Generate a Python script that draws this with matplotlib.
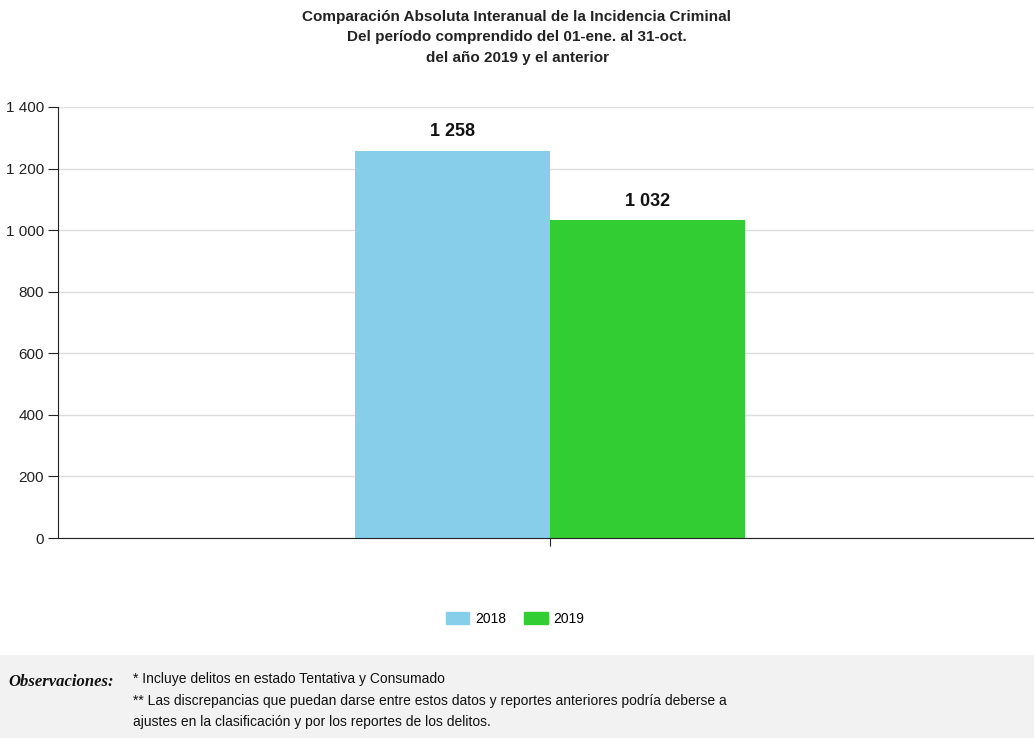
import matplotlib.pyplot as plt
from matplotlib.patches import Rectangle, Patch
from matplotlib.ticker import FuncFormatter

# data
years = ['2018', '2019']
values = [1258, 1032]
colors = ['#87CEEB', '#32CD32']
title_lines = ['Comparación Absoluta Interanual de la Incidencia Criminal',
               'Del período comprendido del 01-ene. al 31-oct.',
               'del año 2019 y el anterior']
notes = ['* Incluye delitos en estado Tentativa y Consumado',
         '** Las discrepancias que puedan darse entre estos datos y reportes anteriores podría deberse a',
         'ajustes en la clasificación y por los reportes de los delitos.']

plt.rcParams['font.family'] = ['Liberation Sans Narrow', 'Liberation Sans', 'DejaVu Sans']

fig = plt.figure(figsize=(10.34, 7.38), dpi=100)
ax = fig.add_axes([58 / 1034, 1 - 538 / 738, 1 - 58 / 1034, 431 / 738])

width = 1.0
offsets = [-0.5, 0.5]
for yr, v, c, off in zip(years, values, colors, offsets):
    ax.bar(off, v, width=width, color=c, label=yr, zorder=2)
    ax.text(off, v + 35, f'{v:,}'.replace(',', ' '), ha='center', va='bottom',
            fontsize=13, fontweight='bold', color='#111111')

ax.set_ylim(0, 1400)
ax.set_xlim(-2.52, 2.48)
ax.set_yticks(range(0, 1401, 200))
ax.yaxis.set_major_formatter(FuncFormatter(lambda v, p: f'{int(v):,}'.replace(',', ' ')))
ax.set_xticks([0])
ax.set_xticklabels([''])
ax.grid(axis='y', color='#dddddd', linewidth=1, zorder=0)
ax.set_axisbelow(True)
for s in ['top', 'right']:
    ax.spines[s].set_visible(False)
ax.spines['left'].set_color('#222222')
ax.spines['bottom'].set_color('#222222')
ax.tick_params(axis='y', length=7, labelsize=11, colors='#222222', pad=3)
ax.tick_params(axis='x', length=6, colors='#222222')

fig.text(0.5, 1 - 37.5 / 738, '\n'.join(title_lines), ha='center', va='center',
         fontsize=11, fontweight='bold', color='#222222', linespacing=1.6)

handles = [Patch(color=c, label=y) for y, c in zip(years, colors)]
fig.legend(handles=handles, loc='center', bbox_to_anchor=(515 / 1034, 1 - 619 / 738),
           ncol=2, frameon=False, fontsize=10, handlelength=1.7, handleheight=0.9,
           columnspacing=1.3, handletextpad=0.4)

fig.patches.append(Rectangle((0, 0), 1, 83 / 738, transform=fig.transFigure,
                             facecolor='#f2f2f2', edgecolor='none', zorder=0))
fig.text(8 / 1034, 1 - 682 / 738, 'Observaciones:', family='Liberation Serif',
         fontsize=12, fontweight='bold', style='italic', va='center', color='#111111')
for i, line in enumerate(notes):
    fig.text(133 / 1034, 1 - (679 + 21.5 * i) / 738, line, fontsize=10,
             va='center', color='#111111')

fig.savefig('out.png', dpi=100)
